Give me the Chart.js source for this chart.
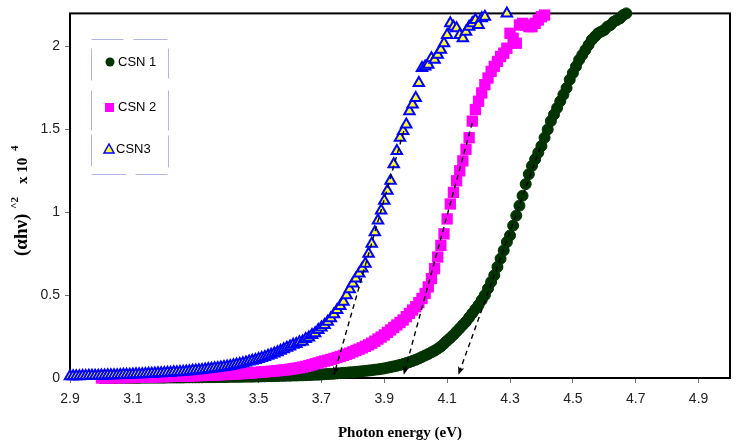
<!DOCTYPE html>
<html>
<head>
<meta charset="utf-8">
<script src="https://cdn.jsdelivr.net/npm/chart.js@4.4.1/dist/chart.umd.min.js"></script>
<style>
html,body{margin:0;padding:0;background:#fff;}
canvas{display:block;}
</style>
</head>
<body>
<canvas id="c" width="740" height="446"></canvas>
<script>
// ---- Data ----
const seriesNames = ["CSN 1", "CSN 2", "CSN3"];
const xTickValues = [2.9, 3.1, 3.3, 3.5, 3.7, 3.9, 4.1, 4.3, 4.5, 4.7, 4.9];
const yTickValues = [0, 0.5, 1, 1.5, 2];

// [photon energy (eV), (alpha h nu)^2 x 10^-4]
const csn1 = [
[3.00,0.000],[3.01,0.000],[3.02,0.000],[3.03,0.000],[3.04,0.001],[3.05,0.001],[3.06,0.001],[3.07,0.001],[3.08,0.001],[3.09,0.001],
[3.10,0.001],[3.11,0.001],[3.12,0.001],[3.13,0.002],[3.14,0.002],[3.15,0.002],[3.16,0.002],[3.17,0.002],[3.18,0.002],[3.19,0.002],
[3.20,0.002],[3.21,0.003],[3.22,0.003],[3.23,0.003],[3.24,0.003],[3.25,0.003],[3.26,0.003],[3.27,0.004],[3.28,0.004],[3.29,0.004],
[3.30,0.004],[3.31,0.004],[3.32,0.004],[3.33,0.005],[3.34,0.005],[3.35,0.005],[3.36,0.005],[3.37,0.006],[3.38,0.006],[3.39,0.006],
[3.40,0.006],[3.41,0.007],[3.42,0.007],[3.43,0.007],[3.44,0.007],[3.45,0.008],[3.46,0.008],[3.47,0.008],[3.48,0.008],[3.49,0.009],
[3.50,0.009],[3.51,0.010],[3.52,0.010],[3.53,0.011],[3.54,0.011],[3.55,0.012],[3.56,0.012],[3.57,0.013],[3.58,0.013],[3.59,0.014],
[3.60,0.014],[3.61,0.015],[3.62,0.015],[3.63,0.016],[3.64,0.016],[3.65,0.017],[3.66,0.018],[3.67,0.019],[3.68,0.020],[3.69,0.020],
[3.70,0.021],[3.71,0.023],[3.72,0.024],[3.73,0.025],[3.74,0.026],[3.75,0.028],[3.76,0.029],[3.77,0.031],[3.78,0.032],[3.79,0.034],
[3.80,0.035],[3.81,0.037],[3.82,0.039],[3.83,0.041],[3.84,0.043],[3.85,0.045],[3.86,0.047],[3.87,0.050],[3.88,0.052],[3.89,0.055],
[3.90,0.058],[3.91,0.062],[3.92,0.066],[3.93,0.070],[3.94,0.074],[3.95,0.079],[3.96,0.084],[3.97,0.090],[3.98,0.096],[3.99,0.103],
[4.00,0.110],[4.01,0.118],[4.02,0.127],[4.03,0.136],[4.04,0.145],[4.05,0.155],[4.06,0.165],[4.07,0.177],[4.08,0.190],[4.09,0.207],
[4.10,0.225],[4.11,0.242],[4.12,0.26],[4.13,0.28],[4.14,0.30],[4.15,0.32],[4.16,0.34],[4.17,0.365],[4.18,0.39],[4.19,0.415],
[4.20,0.44],[4.21,0.47],[4.22,0.50],[4.23,0.54],[4.24,0.58],[4.25,0.62],[4.26,0.67],[4.27,0.72],[4.28,0.77],[4.29,0.82],
[4.30,0.86],[4.31,0.92],[4.32,0.98],[4.33,1.04],[4.34,1.10],[4.35,1.17],[4.36,1.23],[4.37,1.28],[4.38,1.32],[4.39,1.36],
[4.40,1.40],[4.41,1.45],[4.42,1.50],[4.43,1.55],[4.44,1.59],[4.45,1.63],[4.46,1.67],[4.47,1.71],[4.48,1.75],[4.49,1.80],
[4.50,1.84],[4.51,1.88],[4.52,1.92],[4.53,1.95],[4.54,1.98],[4.55,2.01],[4.56,2.04],[4.57,2.06],[4.58,2.08],[4.59,2.09],
[4.60,2.10],[4.61,2.12],[4.62,2.13],[4.63,2.15],[4.64,2.16],[4.65,2.17],[4.66,2.19],[4.67,2.20]
];
const csn2 = [
[3.00,0.000],[3.01,0.001],[3.02,0.001],[3.03,0.002],[3.04,0.002],[3.05,0.002],[3.06,0.002],[3.07,0.003],[3.08,0.003],[3.09,0.003],
[3.10,0.003],[3.11,0.004],[3.12,0.004],[3.13,0.005],[3.14,0.005],[3.15,0.006],[3.16,0.006],[3.17,0.007],[3.18,0.007],[3.19,0.008],
[3.20,0.008],[3.21,0.009],[3.22,0.009],[3.23,0.010],[3.24,0.010],[3.25,0.011],[3.26,0.011],[3.27,0.012],[3.28,0.012],[3.29,0.013],
[3.30,0.014],[3.31,0.015],[3.32,0.015],[3.33,0.016],[3.34,0.017],[3.35,0.018],[3.36,0.018],[3.37,0.019],[3.38,0.020],[3.39,0.021],
[3.40,0.022],[3.41,0.023],[3.42,0.024],[3.43,0.025],[3.44,0.026],[3.45,0.027],[3.46,0.028],[3.47,0.030],[3.48,0.031],[3.49,0.033],
[3.50,0.034],[3.51,0.036],[3.52,0.037],[3.53,0.039],[3.54,0.040],[3.55,0.042],[3.56,0.044],[3.57,0.046],[3.58,0.048],[3.59,0.050],
[3.60,0.053],[3.61,0.056],[3.62,0.059],[3.63,0.062],[3.64,0.066],[3.65,0.070],[3.66,0.075],[3.67,0.080],[3.68,0.086],[3.69,0.091],
[3.70,0.097],[3.71,0.102],[3.72,0.107],[3.73,0.112],[3.74,0.118],[3.75,0.124],[3.76,0.130],[3.77,0.136],[3.78,0.143],[3.79,0.150],
[3.80,0.158],[3.81,0.166],[3.82,0.174],[3.83,0.182],[3.84,0.191],[3.85,0.200],[3.86,0.21],[3.87,0.222],[3.88,0.235],[3.89,0.247],
[3.90,0.26],[3.91,0.275],[3.92,0.29],[3.93,0.305],[3.94,0.32],[3.95,0.335],[3.96,0.35],[3.97,0.37],[3.98,0.39],[3.99,0.41],
[4.00,0.43],[4.01,0.455],[4.02,0.48],[4.03,0.51],[4.04,0.55],[4.05,0.60],[4.06,0.66],[4.07,0.73],[4.08,0.80],[4.09,0.87],
[4.10,0.96],[4.11,1.05],[4.12,1.12],[4.13,1.19],[4.14,1.25],[4.15,1.31],[4.16,1.38],[4.17,1.45],[4.18,1.55],[4.19,1.62],
[4.20,1.67],[4.21,1.72],[4.22,1.77],[4.23,1.81],[4.24,1.85],[4.25,1.88],[4.26,1.91],[4.27,1.94],[4.28,1.96],[4.29,1.99],
[4.30,2.08],[4.31,2.05],[4.32,2.02],[4.33,2.13],[4.34,2.14],[4.35,2.13],[4.36,2.12],[4.37,2.12],[4.38,2.14],[4.39,2.16],
[4.40,2.18],[4.41,2.19]
];
const csn3 = [
[2.90,0.010],[2.91,0.010],[2.92,0.011],[2.93,0.011],[2.94,0.012],[2.95,0.012],[2.96,0.013],[2.97,0.013],[2.98,0.014],[2.99,0.014],
[3.00,0.015],[3.01,0.015],[3.02,0.016],[3.03,0.016],[3.04,0.017],[3.05,0.017],[3.06,0.018],[3.07,0.019],[3.08,0.020],[3.09,0.020],
[3.10,0.021],[3.11,0.022],[3.12,0.023],[3.13,0.023],[3.14,0.024],[3.15,0.025],[3.16,0.026],[3.17,0.027],[3.18,0.028],[3.19,0.029],
[3.20,0.030],[3.21,0.031],[3.22,0.032],[3.23,0.034],[3.24,0.035],[3.25,0.036],[3.26,0.038],[3.27,0.039],[3.28,0.041],[3.29,0.043],
[3.30,0.045],[3.31,0.047],[3.32,0.049],[3.33,0.051],[3.34,0.054],[3.35,0.056],[3.36,0.059],[3.37,0.061],[3.38,0.064],[3.39,0.067],
[3.40,0.070],[3.41,0.073],[3.42,0.077],[3.43,0.081],[3.44,0.085],[3.45,0.089],[3.46,0.094],[3.47,0.099],[3.48,0.104],[3.49,0.109],
[3.50,0.115],[3.51,0.121],[3.52,0.127],[3.53,0.134],[3.54,0.141],[3.55,0.148],[3.56,0.156],[3.57,0.164],[3.58,0.173],[3.59,0.182],
[3.60,0.19],[3.61,0.20],[3.62,0.205],[3.63,0.215],[3.64,0.22],[3.65,0.235],[3.66,0.245],[3.67,0.26],[3.68,0.27],[3.69,0.29],
[3.70,0.305],[3.71,0.32],[3.72,0.34],[3.73,0.36],[3.74,0.385],[3.75,0.41],[3.76,0.435],[3.77,0.46],[3.78,0.50],[3.79,0.535],
[3.80,0.57],[3.81,0.60],[3.82,0.63],[3.83,0.66],[3.84,0.69],[3.85,0.75],[3.86,0.81],[3.87,0.88],[3.88,0.95],[3.89,1.01],
[3.90,1.07],[3.91,1.13],[3.92,1.19],[3.93,1.29],[3.94,1.37],[3.95,1.45],[3.96,1.49],[3.97,1.53],[3.98,1.61],[3.99,1.65],
[4.00,1.69],[4.01,1.78],[4.02,1.87],[4.03,1.88],[4.04,1.89],[4.05,1.93],[4.06,1.92],[4.07,1.95],[4.08,1.98],[4.09,2.02],
[4.10,2.07],[4.11,2.14],[4.12,2.12],[4.13,2.11],[4.14,2.07],[4.15,2.05],[4.16,2.09],[4.17,2.12],[4.18,2.14],[4.19,2.16],
[4.20,2.13],[4.21,2.17],[4.22,2.18],[4.29,2.20]
];
// Tangent (extrapolation) arrows: [start point, arrow tip on the energy axis]
const tangentCSN3 = [[3.962,1.49],[3.74,0.02]];
const tangentCSN2 = [[4.18,1.54],[3.962,0.02]];
const tangentCSN1 = [[4.396,1.39],[4.136,0.02]];

// ---- Styling ----
const COL1 = '#003300', COL2 = '#ff00ff', COL3 = '#0000ff', FILL3 = '#ffff33';
const toXY = arr => arr.map(p => ({x: p[0], y: p[1]}));

const arrowDs = (pts) => ({
  data: toXY(pts), showLine: true, pointRadius: 0, borderColor: '#000',
  borderWidth: 1.4, borderDash: [5, 4], order: 0, isArrow: true, clip: false
});

const decor = {
  id: 'decor',
  beforeDatasetsDraw(chart) {
    const {ctx, chartArea: a} = chart;
    ctx.save();
    ctx.strokeStyle = '#000';
    ctx.lineWidth = 2;
    ctx.strokeRect(a.left, a.top, a.right - a.left, a.bottom - a.top);
    ctx.restore();
  },
  afterDatasetsDraw(chart) {
    const ctx = chart.ctx;
    // arrowheads
    chart.data.datasets.forEach((ds, i) => {
      if (!ds.isArrow) return;
      const m = chart.getDatasetMeta(i);
      const p0 = m.data[0], p1 = m.data[m.data.length - 1];
      const ang = Math.atan2(p1.y - p0.y, p1.x - p0.x);
      const L = 8, W = 3.2;
      ctx.save();
      ctx.translate(p1.x, p1.y);
      ctx.rotate(ang);
      ctx.fillStyle = '#000';
      ctx.beginPath();
      ctx.moveTo(0, 0);
      ctx.lineTo(-L, -W);
      ctx.lineTo(-L + 2, 0);
      ctx.lineTo(-L, W);
      ctx.closePath();
      ctx.fill();
      ctx.restore();
    });

    // legend box (broken lavender border)
    ctx.save();
    ctx.strokeStyle = '#b4b4e6';
    ctx.lineWidth = 1;
    const segs = [
      [91,39,123,39],[133,39,167,39],
      [91,174,126,174],[135,174,167,174],
      [91,48,91,80],[91,90,91,130],[91,134,91,166],
      [168,48,168,78],[168,90,168,130],[168,135,168,167]
    ];
    segs.forEach(s => { ctx.beginPath(); ctx.moveTo(s[0]+0.5, s[1]+0.5); ctx.lineTo(s[2]+0.5, s[3]+0.5); ctx.stroke(); });
    // markers
    ctx.fillStyle = COL1;
    ctx.beginPath(); ctx.arc(110, 62, 4.5, 0, Math.PI * 2); ctx.fill();
    ctx.fillStyle = COL2;
    ctx.fillRect(105, 103, 9, 9);
    ctx.beginPath();
    ctx.moveTo(109, 144); ctx.lineTo(114, 153); ctx.lineTo(104, 153); ctx.closePath();
    ctx.fillStyle = FILL3; ctx.fill();
    ctx.strokeStyle = COL3; ctx.lineWidth = 1.5; ctx.stroke();
    // text
    ctx.fillStyle = '#000';
    ctx.font = '13px "Liberation Sans", Arial, sans-serif';
    ctx.textBaseline = 'middle';
    ctx.textAlign = 'left';
    ctx.fillText(seriesNames[0], 118, 62);
    ctx.fillText(seriesNames[1], 118, 107);
    ctx.fillText(seriesNames[2], 116, 149);
    ctx.restore();

    // axis titles
    ctx.save();
    ctx.fillStyle = '#000';
    ctx.textAlign = 'center';
    ctx.textBaseline = 'middle';
    ctx.font = 'bold 15px "Liberation Serif", "Times New Roman", serif';
    ctx.fillText('Photon energy (eV)', 400, 433);
    ctx.restore();

    const rot = (txt, font, sx, sy) => {
      ctx.save();
      ctx.translate(sx, sy);
      ctx.rotate(-Math.PI / 2);
      ctx.font = font;
      ctx.fillStyle = '#000';
      ctx.textAlign = 'left';
      ctx.textBaseline = 'alphabetic';
      ctx.fillText(txt, 0, 0);
      ctx.restore();
    };
    const serifB = 'bold %spx "Liberation Serif", "Times New Roman", serif';
    rot('(\u03b1h\u03bd)', serifB.replace('%s', 19), 27, 256);
    rot('^2', serifB.replace('%s', 11), 18, 209);
    rot('x 10', serifB.replace('%s', 15), 27, 184);
    rot('4', serifB.replace('%s', 11), 18, 151);
  }
};

const chart = new Chart(document.getElementById('c'), {
  type: 'scatter',
  data: {
    datasets: [
      { label: seriesNames[0], data: toXY(csn1), pointStyle: 'circle', pointRadius: 5.5,
        backgroundColor: COL1, borderColor: COL1, borderWidth: 1, order: 3, clip: false },
      { label: seriesNames[1], data: toXY(csn2), pointStyle: 'rect', pointRadius: 8,
        backgroundColor: COL2, borderColor: COL2, borderWidth: 0, order: 2, clip: false },
      { label: seriesNames[2], data: toXY(csn3), pointStyle: 'triangle', pointRadius: 6,
        backgroundColor: FILL3, borderColor: COL3, borderWidth: 2, order: 1, clip: false },
      arrowDs(tangentCSN3),
      arrowDs(tangentCSN2),
      arrowDs(tangentCSN1)
    ]
  },
  options: {
    responsive: false,
    animation: false,
    devicePixelRatio: 1,
    layout: { padding: { top: 11, right: 10, left: 0, bottom: 0 } },
    plugins: { legend: { display: false }, tooltip: { enabled: false } },
    scales: {
      x: {
        type: 'linear', min: 2.9, max: 5.0,
        afterBuildTicks: s => { s.ticks = xTickValues.map(v => ({value: v})); },
        afterFit: s => { s.height = 68; },
        ticks: { callback: v => Number(v).toFixed(1), autoSkip: false, maxRotation: 0,
                 color: '#222', padding: 8, font: { family: '"Liberation Sans", Arial, sans-serif', size: 14 } },
        grid: { drawOnChartArea: false, drawTicks: true, tickLength: 5, color: '#777' },
        border: { display: false }
      },
      y: {
        type: 'linear', min: 0, max: 2.2,
        afterBuildTicks: s => { s.ticks = yTickValues.map(v => ({value: v})); },
        afterFit: s => { s.width = 70; },
        ticks: { callback: v => String(v), color: '#222', padding: 5,
                 font: { family: '"Liberation Sans", Arial, sans-serif', size: 14 } },
        grid: { drawOnChartArea: false, drawTicks: true, tickLength: 5, color: '#777' },
        border: { display: false }
      }
    }
  },
  plugins: [decor]
});
</script>
</body>
</html>
